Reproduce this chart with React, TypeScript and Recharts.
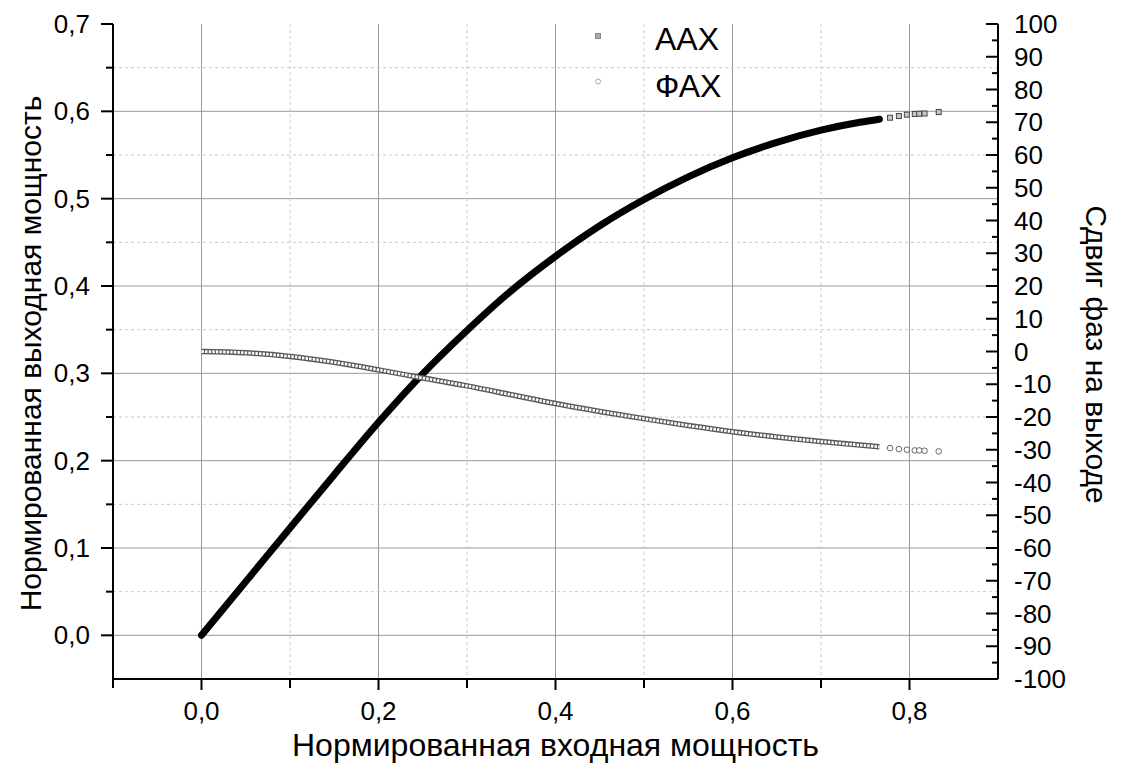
import React from 'react';
import { ComposedChart, Line, Scatter, XAxis, YAxis, CartesianGrid, Legend } from 'recharts';

// Amplitude characteristic (AAX): normalized input vs normalized output power
const ampInput = [0, 0.05, 0.1, 0.15, 0.2, 0.2467, 0.3, 0.35, 0.4, 0.45, 0.5, 0.55, 0.6, 0.65, 0.7, 0.744, 0.766];
const ampOutput = [0, 0.0615, 0.123, 0.184, 0.244, 0.296, 0.349, 0.3946, 0.434, 0.469, 0.499, 0.525, 0.5468, 0.5645, 0.5785, 0.5875, 0.591];

// Phase characteristic (ФАХ): normalized input vs output phase shift, degrees
const phaseInput = [0, 0.05, 0.1, 0.15, 0.2, 0.25, 0.3, 0.35, 0.4, 0.45, 0.5, 0.55, 0.6, 0.65, 0.7, 0.766];
const phaseShift = [0, -0.4, -1.5, -3.3, -5.6, -8.1, -10.5, -13.2, -15.9, -18.3, -20.5, -22.6, -24.5, -26.1, -27.5, -29.1];

// Sparse samples at the saturation end
const tailInput = [0.778, 0.788, 0.797, 0.806, 0.811, 0.817, 0.833];
const tailOutput = [0.5927, 0.5946, 0.5962, 0.597, 0.5973, 0.5975, 0.5992];
const tailPhase = [-29.5, -29.8, -30.0, -30.2, -30.2, -30.3, -30.5];

// Tick values
const xMajorTicks = [0, 0.2, 0.4, 0.6, 0.8];
const xMinorTicks = [-0.1, 0.1, 0.3, 0.5, 0.7];
const leftMajorTicks = [0, 0.1, 0.2, 0.3, 0.4, 0.5, 0.6, 0.7];
const leftMinorTicks = [0.05, 0.15, 0.25, 0.35, 0.45, 0.55, 0.65];
const rightMajorTicks = [-100, -90, -80, -70, -60, -50, -40, -30, -20, -10, 0, 10, 20, 30, 40, 50, 60, 70, 80, 90, 100];
const rightMinorTicks = [-95, -85, -75, -65, -55, -45, -35, -25, -15, -5, 5, 15, 25, 35, 45, 55, 65, 75, 85, 95];

const FONT = '"Liberation Sans", Arial, sans-serif';
const TICK_FONT = 26;
const TITLE_FONT = 30;
const X_TITLE_FONT = 32;

const ampData = ampInput.map((x, i) => ({ x, y: ampOutput[i] }));
const phaseData = phaseInput.map((x, i) => ({ x, y: phaseShift[i] }));
const ampTail = tailInput.map((x, i) => ({ x, y: tailOutput[i] }));
const phaseTail = tailInput.map((x, i) => ({ x, y: tailPhase[i] }));

const sortNum = (a: number[]) => [...a].sort((p, q) => p - q);
const isIn = (v: number, arr: number[]) => arr.some((t) => Math.abs(t - v) < 1e-9);
const fmtDec = (v: number) => v.toFixed(1).replace('.', ',');

const BottomTick = (props: any) => {
  const { x, y, payload } = props;
  const v = payload.value;
  const major = isIn(v, xMajorTicks);
  return (
    <g>
      <line x1={x} y1={y} x2={x} y2={y + (major ? 11 : 9)} stroke="#000" strokeWidth={2} />
      {major && (
        <text x={x} y={y + 41} textAnchor="middle" fontFamily={FONT} fontSize={TICK_FONT} fill="#000">
          {fmtDec(v)}
        </text>
      )}
    </g>
  );
};

const LeftTick = (props: any) => {
  const { x, y, payload } = props;
  const v = payload.value;
  const major = isIn(v, leftMajorTicks);
  return (
    <g>
      <line x1={x} y1={y} x2={x - (major ? 12 : 7)} y2={y} stroke="#000" strokeWidth={2} />
      {major && (
        <text x={x - 23} y={y + 9} textAnchor="end" fontFamily={FONT} fontSize={TICK_FONT} fill="#000">
          {fmtDec(v)}
        </text>
      )}
    </g>
  );
};

const RightTick = (props: any) => {
  const { x, y, payload } = props;
  const v = payload.value;
  const major = isIn(v, rightMajorTicks);
  return (
    <g>
      <line x1={x} y1={y} x2={x - (major ? 12 : 6)} y2={y} stroke="#000" strokeWidth={2} />
      {major && (
        <text x={x + 16} y={y + 9} textAnchor="start" fontFamily={FONT} fontSize={TICK_FONT} fill="#000">
          {String(v)}
        </text>
      )}
    </g>
  );
};

const BottomTitle = (props: any) => {
  const vb = props.viewBox;
  return (
    <text x={vb.x + vb.width / 2} y={vb.y + 77} textAnchor="middle" fontFamily={FONT} fontSize={X_TITLE_FONT} fill="#000">
      Нормированная входная мощность
    </text>
  );
};

const LeftTitle = (props: any) => {
  const vb = props.viewBox;
  const cx = vb.x + 30;
  const cy = vb.y + vb.height / 2 + 2;
  return (
    <text
      x={cx}
      y={cy}
      transform={`rotate(-90 ${cx} ${cy})`}
      textAnchor="middle"
      dominantBaseline="central"
      fontFamily={FONT}
      fontSize={TITLE_FONT}
      fill="#000"
    >
      Нормированная выходная мощность
    </text>
  );
};

const RightTitle = (props: any) => {
  const vb = props.viewBox;
  const cx = vb.x + 98;
  const cy = vb.y + vb.height / 2 + 3;
  return (
    <text
      x={cx}
      y={cy}
      transform={`rotate(90 ${cx} ${cy})`}
      textAnchor="middle"
      dominantBaseline="central"
      fontFamily={FONT}
      fontSize={TITLE_FONT}
      fill="#000"
    >
      Сдвиг фаз на выходе
    </text>
  );
};

const SquareMark = (props: any) => {
  const { cx, cy } = props;
  return <rect x={cx - 2.5} y={cy - 2.5} width={5} height={5} fill="#c8c8c8" stroke="#444" strokeWidth={1} />;
};

const RingMark = (props: any) => {
  const { cx, cy } = props;
  return <circle cx={cx} cy={cy} r={2.8} fill="#fff" stroke="#666" strokeWidth={1} />;
};

const renderLegend = () => (
  <svg width={170} height={100} style={{ overflow: 'visible' }}>
    <rect x={25.5} y={23.5} width={5} height={5} fill="#aaa" stroke="#888" strokeWidth={1} />
    <text x={85} y={40} fontFamily={FONT} fontSize={32} fill="#000">
      AAX
    </text>
    <circle cx={28} cy={71.5} r={2.5} fill="#fff" stroke="#aaa" strokeWidth={1} />
    <text x={85} y={86.5} fontFamily={FONT} fontSize={32} fill="#000">
      ФАХ
    </text>
  </svg>
);

export default function App() {
  return (
    <div style={{ position: 'absolute', left: 0, top: 0, background: '#fff' }}>
      <ComposedChart width={1121} height={774} margin={{ top: 24, right: 0, bottom: 0, left: 0 }}>
        <CartesianGrid
          yAxisId="left"
          stroke="#9a9a9a"
          strokeWidth={1}
          verticalValues={xMajorTicks}
          horizontalValues={leftMajorTicks.filter((v) => v < 0.7)}
        />
        <CartesianGrid
          yAxisId="left"
          stroke="#c8c8c8"
          strokeWidth={1}
          strokeDasharray="3 3"
          verticalValues={xMinorTicks.filter((v) => v > -0.1)}
          horizontalValues={leftMinorTicks}
        />
        <XAxis
          dataKey="x"
          type="number"
          domain={[-0.1, 0.9]}
          ticks={sortNum([...xMajorTicks, ...xMinorTicks])}
          interval={0}
          height={95}
          tickSize={0}
          tickMargin={0}
          axisLine={{ stroke: '#000', strokeWidth: 2 }}
          tickLine={false}
          tick={(p: any) => <BottomTick {...p} />}
          label={<BottomTitle />}
          allowDataOverflow
        />
        <YAxis
          yAxisId="left"
          dataKey="y"
          type="number"
          domain={[-0.05, 0.7]}
          ticks={sortNum([...leftMajorTicks, ...leftMinorTicks])}
          interval={0}
          width={113}
          tickSize={0}
          tickMargin={0}
          axisLine={{ stroke: '#000', strokeWidth: 2 }}
          tickLine={false}
          tick={(p: any) => <LeftTick {...p} />}
          label={<LeftTitle />}
          allowDataOverflow
        />
        <YAxis
          yAxisId="right"
          orientation="right"
          dataKey="y"
          type="number"
          domain={[-100, 100]}
          ticks={sortNum([...rightMajorTicks, ...rightMinorTicks])}
          interval={0}
          width={123}
          tickSize={0}
          tickMargin={0}
          axisLine={{ stroke: '#000', strokeWidth: 2 }}
          tickLine={false}
          tick={(p: any) => <RightTick {...p} />}
          label={<RightTitle />}
          allowDataOverflow
        />
        <Legend
          layout="horizontal"
          verticalAlign="middle"
          align="center"
          wrapperStyle={{ left: 570, top: 10, width: 170, height: 100 }}
          content={renderLegend}
        />
        <Line
          yAxisId="left"
          data={ampData}
          dataKey="y"
          name="AAX"
          type="monotone"
          stroke="#000"
          strokeWidth={7}
          strokeLinecap="round"
          dot={false}
          activeDot={false}
          isAnimationActive={false}
        />
        <Scatter yAxisId="left" data={ampTail} dataKey="y" name="AAX" shape={<SquareMark />} isAnimationActive={false} />
        <Line
          yAxisId="right"
          data={phaseData}
          dataKey="y"
          name="ФАХ"
          type="monotone"
          stroke="#5a5a5a"
          strokeWidth={5.5}
          dot={false}
          activeDot={false}
          isAnimationActive={false}
        />
        <Line
          yAxisId="right"
          data={phaseData}
          dataKey="y"
          name="ФАХ-inner"
          type="monotone"
          stroke="#fff"
          strokeWidth={2.8}
          strokeDasharray="2.4 1.2"
          dot={false}
          activeDot={false}
          legendType="none"
          isAnimationActive={false}
        />
        <Scatter yAxisId="right" data={phaseTail} dataKey="y" name="ФАХ" shape={<RingMark />} isAnimationActive={false} />
      </ComposedChart>
    </div>
  );
}
